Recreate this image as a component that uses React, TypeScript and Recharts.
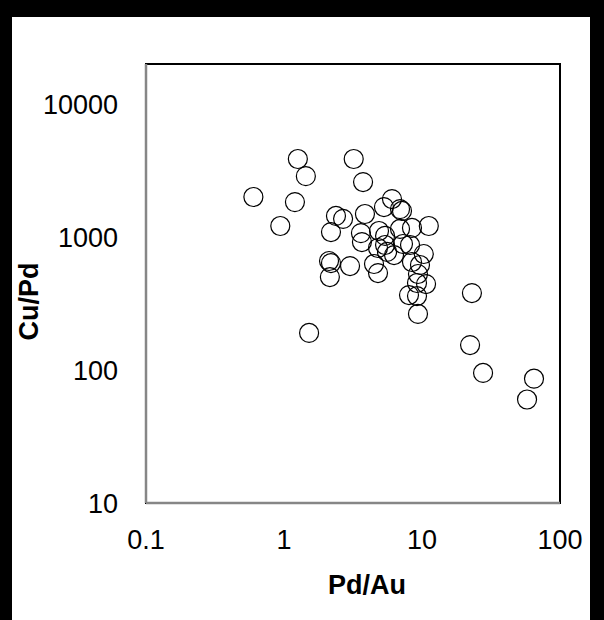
import {
  ScatterChart,
  Scatter,
  XAxis,
  YAxis,
  ReferenceArea,
  ReferenceLine,
} from "recharts";

// Pd/Au ratio of each sample
const pdAu = [
  0.6, 0.94, 1.26, 1.44, 1.2, 1.52, 3.2, 3.74,
  2.19, 2.38, 2.68, 3.86, 3.61, 3.67, 4.88, 5.4, 6.06, 5.3, 6.93, 7.16,
  6.93, 8.46, 11.2, 7.28, 4.8, 5.4, 5.58, 6.27, 8.19, 8.46, 10.3, 9.67,
  2.12, 2.19, 2.15, 3.01, 4.49, 4.8, 9.35, 9.2, 10.7, 8.05, 9.2, 9.35,
  23, 22.3, 27.7, 64.8, 57.7,
];

// Cu/Pd ratio of each sample
const cuPd = [
  2000, 1210, 3860, 2870, 1830, 190, 3860, 2590,
  1090, 1440, 1370, 1490, 1070, 917, 1110, 1020, 1930, 1680, 1620, 1570,
  1150, 1170, 1210, 886, 827, 871, 772, 732, 871, 649, 745, 616,
  660, 637, 500, 605, 627, 536, 527, 451, 443, 366, 360, 264,
  379, 154, 95, 86, 60,
];

const xTicks = [0.1, 1, 10, 100];
const yTicks = [10, 100, 1000, 10000];

const data = pdAu.map((x, i) => ({ x, y: cuPd[i] }));

const font = "'Liberation Sans', Arial, sans-serif";

const OpenCircle = (props: any) => {
  const { cx, cy } = props;
  if (cx == null || cy == null) return null;
  return <circle cx={cx} cy={cy} r={9.5} fill="none" stroke="#000" strokeWidth={1.2} />;
};

export default function App() {
  return (
    <div
      style={{
        position: "absolute",
        left: 0,
        top: 0,
        width: 604,
        height: 620,
        background: "#000",
      }}
    >
      <div
        style={{
          position: "absolute",
          left: 12,
          top: 17,
          width: 578,
          height: 603,
          background: "#fff",
        }}
      />
      <div style={{ position: "absolute", left: 0, top: 0 }}>
        <ScatterChart
          width={604}
          height={620}
          margin={{ top: 64, right: 44, bottom: 0, left: 0 }}
        >
          <XAxis
            type="number"
            dataKey="x"
            scale="log"
            domain={[0.1, 100]}
            ticks={xTicks}
            allowDataOverflow
            axisLine={false}
            tickLine={false}
            tickSize={0}
            tickMargin={27}
            height={117}
            tick={{ fill: "#000", fontSize: 27, fontFamily: font }}
            tickFormatter={(v: number) => String(v)}
            label={{
              content: (p: any) => {
                const vb = p.viewBox;
                return (
                  <text
                    x={vb.x + vb.width / 2 + 14}
                    y={vb.y + 82}
                    textAnchor="middle"
                    dominantBaseline="central"
                    fontFamily={font}
                    fontSize={27}
                    fontWeight="bold"
                    fill="#000"
                  >
                    Pd/Au
                  </text>
                );
              },
            }}
          />
          <YAxis
            type="number"
            dataKey="y"
            scale="log"
            domain={[10, 20000]}
            ticks={yTicks}
            allowDataOverflow
            axisLine={false}
            tickLine={false}
            tickSize={0}
            tickMargin={28}
            width={146}
            tick={{ fill: "#000", fontSize: 27, fontFamily: font }}
            label={{
              content: (p: any) => {
                const vb = p.viewBox;
                const cx = 29;
                const cy = vb.y + vb.height / 2 + 18;
                return (
                  <text
                    x={cx}
                    y={cy}
                    transform={`rotate(-90, ${cx}, ${cy})`}
                    textAnchor="middle"
                    dominantBaseline="central"
                    fontFamily={font}
                    fontSize={27}
                    fontWeight="bold"
                    fill="#000"
                  >
                    Cu/Pd
                  </text>
                );
              },
            }}
          />
          <ReferenceArea
            x1={0.1}
            x2={100}
            y1={10}
            y2={20000}
            fill="none"
            stroke="#000"
            strokeWidth={2}
            ifOverflow="visible"
          />
          <ReferenceLine x={0.1} stroke="#868686" strokeWidth={2.5} ifOverflow="visible" />
          <ReferenceLine y={10} stroke="#868686" strokeWidth={2.5} ifOverflow="visible" />
          <Scatter data={data} shape={<OpenCircle />} isAnimationActive={false} />
        </ScatterChart>
      </div>
    </div>
  );
}
